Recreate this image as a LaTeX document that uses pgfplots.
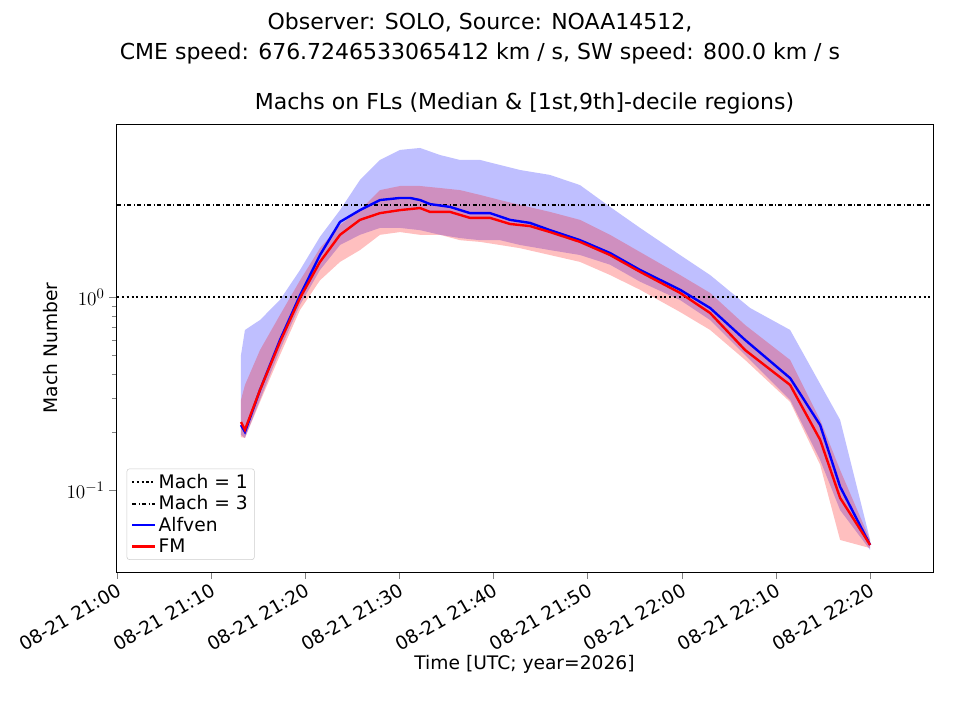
\documentclass[border=0pt]{standalone}
\usepackage{pgfplots}
\pgfplotsset{compat=1.18}
\usepgfplotslibrary{fillbetween}
\usepackage{fontspec}
\setmainfont{DejaVu Sans}
\begin{document}
\begin{tikzpicture}[x=1pt,y=1pt]
\begin{axis}[
  at={(0,0)}, anchor=south west,
  scale only axis, width=612.75pt, height=336pt,
  ymode=log, xmin=-0.1, xmax=86.7, ymin=0.0376, ymax=7.88,
  xtick={0,10,20,30,40,50,60,70,80},
  xticklabels={08-21 21:00,08-21 21:10,08-21 21:20,08-21 21:30,08-21 21:40,08-21 21:50,08-21 22:00,08-21 22:10,08-21 22:20},
  x tick label style={rotate=30, anchor=north east, font=\fontsize{14}{16}\selectfont, inner sep=2pt},
  y tick label style={font=\fontsize{15}{17}\selectfont},
  ytick={0.1,1}, tick align=outside, tick pos=left,
  major tick length=5pt, minor tick length=3pt,
  xlabel={Time [UTC; year=2026]}, ylabel={Mach Number},
  xlabel style={yshift=4pt},
  label style={font=\fontsize{14}{16}\selectfont},
  title={Machs on FLs (Median \& [1st,9th]-decile regions)},
  title style={font=\fontsize{16.5}{19}\selectfont, yshift=-2pt},
  legend style={at={(0.013,0.027)}, anchor=south west, font=\fontsize{14}{17}\selectfont, draw=black!20, rounded corners=2pt},
  legend cell align=left,
]
\addplot[black, dotted, line width=1.6pt] coordinates {(-1,1) (90,1)};
\addlegendentry{Mach = 1}
\addplot[black, dash dot, line width=1.6pt] coordinates {(-1,3) (90,3)};
\addlegendentry{Mach = 3}

\addplot[draw=none, name path=bu, forget plot] coordinates {
(13.18,0.500)(13.60,0.675)(15.20,0.760)(17.32,0.965)(19.45,1.38)(21.57,2.05)(23.70,2.82)(25.82,4.04)(27.95,5.13)(30.07,5.78)(32.20,5.92)(34.33,5.44)(36.45,5.13)(38.58,5.13)(40.70,4.83)(42.83,4.55)(46.01,4.29)(49.20,3.80)(52.39,2.93)(55.58,2.28)(59.83,1.65)(63.02,1.30)(67.27,0.877)(71.52,0.675)(76.83,0.231)(80.02,0.0551)};
\addplot[draw=none, name path=bl, forget plot] coordinates {
(13.18,0.193)(13.60,0.186)(15.20,0.293)(17.32,0.531)(19.45,0.910)(21.57,1.38)(23.70,1.86)(25.82,2.10)(27.95,2.28)(30.07,2.28)(32.20,2.22)(34.33,2.10)(36.45,2.02)(38.58,1.97)(40.70,1.97)(42.83,1.86)(46.01,1.75)(49.20,1.65)(52.39,1.47)(55.58,1.20)(59.83,0.965)(63.02,0.760)(66.74,0.500)(71.52,0.293)(74.71,0.143)(76.83,0.0787)(80.02,0.0489)};
\addplot[fill=blue, fill opacity=0.25, draw=none, forget plot] fill between[of=bu and bl];

\addplot[draw=none, name path=ru, forget plot] coordinates {
(13.18,0.293)(13.60,0.350)(15.20,0.531)(17.32,0.807)(19.45,1.22)(21.57,1.79)(23.70,2.36)(25.82,2.82)(27.95,3.58)(30.07,3.76)(32.20,3.76)(34.33,3.67)(36.45,3.58)(38.58,3.38)(40.70,3.18)(42.83,3.00)(46.01,2.76)(49.20,2.51)(52.39,2.10)(55.58,1.71)(59.83,1.30)(63.02,1.05)(66.74,0.716)(71.52,0.472)(74.71,0.231)(76.83,0.127)(80.02,0.0551)};
\addplot[draw=none, name path=rl, forget plot] coordinates {
(13.18,0.188)(13.60,0.186)(15.20,0.286)(17.32,0.500)(19.45,0.857)(21.57,1.22)(23.70,1.52)(25.82,1.75)(27.95,2.10)(30.07,2.17)(32.20,2.10)(34.33,2.10)(36.45,1.97)(38.58,1.93)(40.70,1.86)(42.83,1.79)(46.01,1.65)(49.20,1.52)(52.39,1.30)(55.58,1.09)(59.83,0.836)(63.02,0.675)(66.74,0.472)(71.52,0.286)(74.71,0.135)(76.83,0.0551)(80.02,0.0500)};
\addplot[fill=red, fill opacity=0.25, draw=none, forget plot] fill between[of=ru and rl];

\addplot[blue, line width=1.8pt] coordinates {
(13.18,0.217)(13.60,0.200)(15.20,0.330)(17.32,0.599)(19.45,1.02)(21.57,1.65)(23.70,2.45)(25.82,2.82)(27.95,3.18)(30.07,3.26)(31.14,3.26)(32.20,3.18)(33.26,3.03)(35.39,2.93)(37.51,2.72)(39.64,2.72)(41.76,2.51)(43.89,2.42)(46.01,2.22)(49.20,1.97)(52.39,1.69)(55.58,1.38)(59.83,1.09)(63.02,0.877)(66.74,0.599)(71.52,0.380)(74.71,0.217)(76.83,0.104)(80.02,0.0519)};
\addlegendentry{Alfven}
\addplot[red, line width=1.8pt] coordinates {
(13.18,0.225)(13.60,0.205)(15.20,0.330)(17.32,0.585)(19.45,0.988)(21.57,1.52)(23.70,2.10)(25.82,2.51)(27.95,2.72)(30.07,2.82)(32.20,2.89)(33.26,2.76)(35.39,2.76)(37.51,2.57)(39.64,2.57)(41.76,2.39)(43.89,2.33)(46.01,2.17)(49.20,1.93)(52.39,1.65)(55.58,1.35)(59.83,1.05)(63.02,0.826)(66.74,0.531)(71.52,0.350)(74.71,0.182)(76.83,0.091)(80.02,0.0519)};
\addlegendentry{FM}
\end{axis}
\node[align=center, font=\fontsize{16.5}{22.5}\selectfont, anchor=north] at (273,423) {Observer: SOLO, Source: NOAA14512,\\CME speed: 676.7246533065412 km / s, SW speed: 800.0 km / s};
\path[use as bounding box] (-87,-111) rectangle (633,429);
\end{tikzpicture}
\end{document}
